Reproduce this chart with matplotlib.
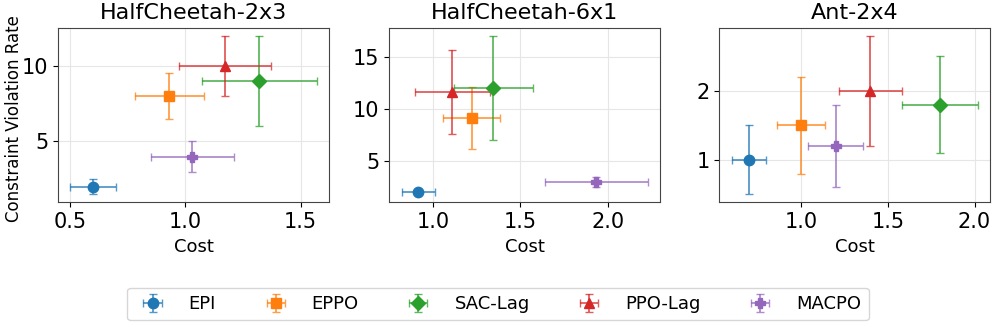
import matplotlib
matplotlib.use("Agg")
import matplotlib.pyplot as plt

methods = ["EPI", "EPPO", "SAC-Lag", "PPO-Lag", "MACPO"]
colors = ["#1f77b4", "#ff7f0e", "#2ca02c", "#d62728", "#9467bd"]
markers = ["o", "s", "D", "^", "P"]

titles = ["HalfCheetah-2x3", "HalfCheetah-6x1", "Ant-2x4"]

# cost (x) and constraint violation rate (y) with errors, per task
cost = [
    [0.60, 0.93, 1.32, 1.17, 1.03],
    [0.915, 1.22, 1.345, 1.11, 1.935],
    [0.70, 1.00, 1.80, 1.40, 1.20],
]
cost_err = [
    [0.10, 0.15, 0.25, 0.20, 0.18],
    [0.095, 0.165, 0.225, 0.215, 0.295],
    [0.10, 0.14, 0.22, 0.18, 0.16],
]
cvr = [
    [2.0, 8.0, 9.0, 10.0, 4.0],
    [2.0, 9.1, 12.0, 11.6, 3.0],
    [1.0, 1.5, 1.8, 2.0, 1.2],
]
cvr_err = [
    [0.5, 1.5, 3.0, 2.0, 1.0],
    [0.2, 3.0, 5.0, 4.0, 0.5],
    [0.5, 0.7, 0.7, 0.8, 0.6],
]
xticks = [[0.5, 1.0, 1.5], [1.0, 1.5, 2.0], [1.0, 1.5, 2.0]]
yticks = [[5, 10], [5, 10, 15], [1, 2]]

fig = plt.figure(figsize=(9.96, 3.27), dpi=100)
lefts = [58 / 996, 389.3 / 996, 719.3 / 996]
W = 996.0
H = 327.0
handles = []
for k in range(3):
    ax = fig.add_axes([lefts[k], (H - 202.3) / H, 271 / W, 174.6 / H])
    for i, m in enumerate(methods):
        h = ax.errorbar(cost[k][i], cvr[k][i], xerr=cost_err[k][i], yerr=cvr_err[k][i],
                        fmt=markers[i], color=colors[i], ms=7.5, capsize=3,
                        elinewidth=1.3, capthick=1.0, label=m)
        for c in h[1]:
            c.set_alpha(0.75)
        for c in h[2]:
            c.set_alpha(0.75)
        if k == 0:
            handles.append(h)
    ax.set_title(titles[k], fontsize=16)
    ax.set_xlabel("Cost", fontsize=13)
    if k == 0:
        ax.set_ylabel("Constraint Violation Rate", fontsize=12)
        ax.yaxis.set_label_coords(-0.13, 0.48)
    ax.set_xticks(xticks[k])
    ax.set_yticks(yticks[k])
    ax.tick_params(labelsize=15)
    ax.grid(True, color="#e6e6e6", linewidth=0.8)
    ax.set_axisbelow(True)
    for s in ax.spines.values():
        s.set_color("#444444")

fig.legend(handles=handles, labels=methods, loc="center", ncol=5,
           bbox_to_anchor=(498 / W, (H - 304) / H), fontsize=13,
           columnspacing=2.3, handletextpad=1.0, frameon=True,
           edgecolor="#cccccc")

fig.savefig("out.png", dpi=100)
